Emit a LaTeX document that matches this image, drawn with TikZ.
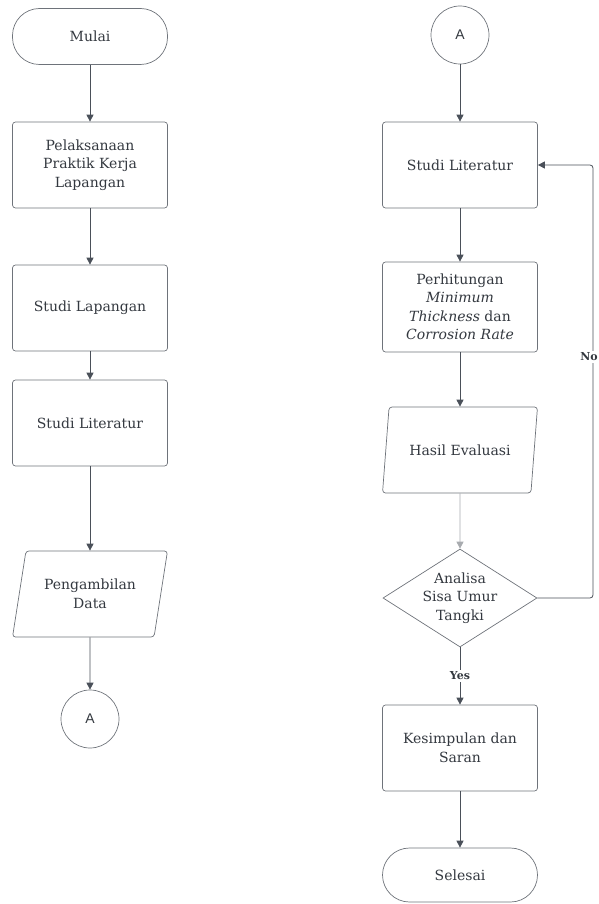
\documentclass[tikz,border=0pt]{standalone}
\usepackage{fontspec}
\setmainfont{DejaVu Serif}
\setsansfont{Liberation Sans}
\usepackage{tikz}
\usetikzlibrary{arrows.meta,shapes.geometric}

\definecolor{ink}{HTML}{33383F}
\definecolor{edge}{HTML}{4A5059}
\definecolor{rim}{HTML}{6E737A}

\tikzset{
    base/.style={draw=rim, line width=0.7pt, text=ink, align=center, font=\fontsize{14}{18.5}\selectfont},
    terminal/.style={base, rectangle, rounded corners=27pt, minimum width=155pt, minimum height=56pt},
    process/.style={base, rectangle, rounded corners=3pt, minimum width=155pt, minimum height=86pt},
    inout/.style={base, trapezium, trapezium left angle=75, trapezium right angle=105, trapezium stretches=true, rounded corners=3pt, minimum width=155pt, minimum height=86pt, inner xsep=0pt},
    decision/.style={draw=rim, line width=0.7pt, diamond, inner sep=0pt, minimum width=154pt, minimum height=98pt},
    connector/.style={base, circle, minimum size=58pt, font=\sffamily\fontsize{14}{16}\selectfont},
    flow/.style={draw=edge, line width=0.8pt, ->},
    tag/.style={fill=white, text=ink, inner sep=1.5pt, font=\bfseries\fontsize{11}{13}\selectfont}
}

\begin{document}
\begin{tikzpicture}[x=1pt, y=-1pt, >={Triangle[length=7pt,width=7pt]}]
    \useasboundingbox (0,0) rectangle (599,904);

    % Left column
    \node[terminal]  (mulai)   at (90,36.5) {Mulai};
    \node[process]   (pkl)     at (90,165)  {Pelaksanaan\\Praktik Kerja\\Lapangan};
    \node[process]   (studlap) at (90,308)  {Studi Lapangan};
    \node[process]   (studlit) at (90,423)  {Studi Literatur};
    \node[inout]     (ambil)   at (90,594)  {Pengambilan\\Data};
    \node[connector] (ka)      at (90,719)  {A};

    % Right column
    \node[connector] (kb)      at (460,35)  {A};
    \node[process]   (lit)     at (460,165) {Studi Literatur};
    \node[process, minimum height=90pt] (hitung) at (460,307)
        {Perhitungan\\\textit{Minimum}\\\textit{Thickness} dan\\\textit{Corrosion Rate}};
    \node[inout]     (hasil)   at (460,450) {Hasil Evaluasi};
    \node[decision]  (analisa) at (460,598) {};
    \node[base, draw=none] (analisa-text) at (analisa) {Analisa\\Sisa Umur\\Tangki};
    \node[process]   (simpul)  at (460,748) {Kesimpulan dan\\Saran};
    \node[terminal, minimum height=54pt] (selesai) at (460,875) {Selesai};

    % Straight connectors
    \foreach \a/\b in {mulai/pkl, pkl/studlap, studlap/studlit, studlit/ambil, ambil/ka,
                       kb/lit, lit/hitung, hitung/hasil, simpul/selesai} {
        \draw[flow] (\a) -- (\b);
    }
    \draw[flow, draw=rim!60] (hasil) -- (analisa);

    % Decision branches
    \draw[flow] (analisa) -- node[tag] (yes) {Yes} (simpul);
    \coordinate (loop) at (593,598);
    \draw[flow, rounded corners=3pt] (analisa.east) -- (loop) |- (lit.east);
    \node[tag, anchor=east, inner xsep=1pt] (no) at (599,357) {No};
\end{tikzpicture}
\end{document}
